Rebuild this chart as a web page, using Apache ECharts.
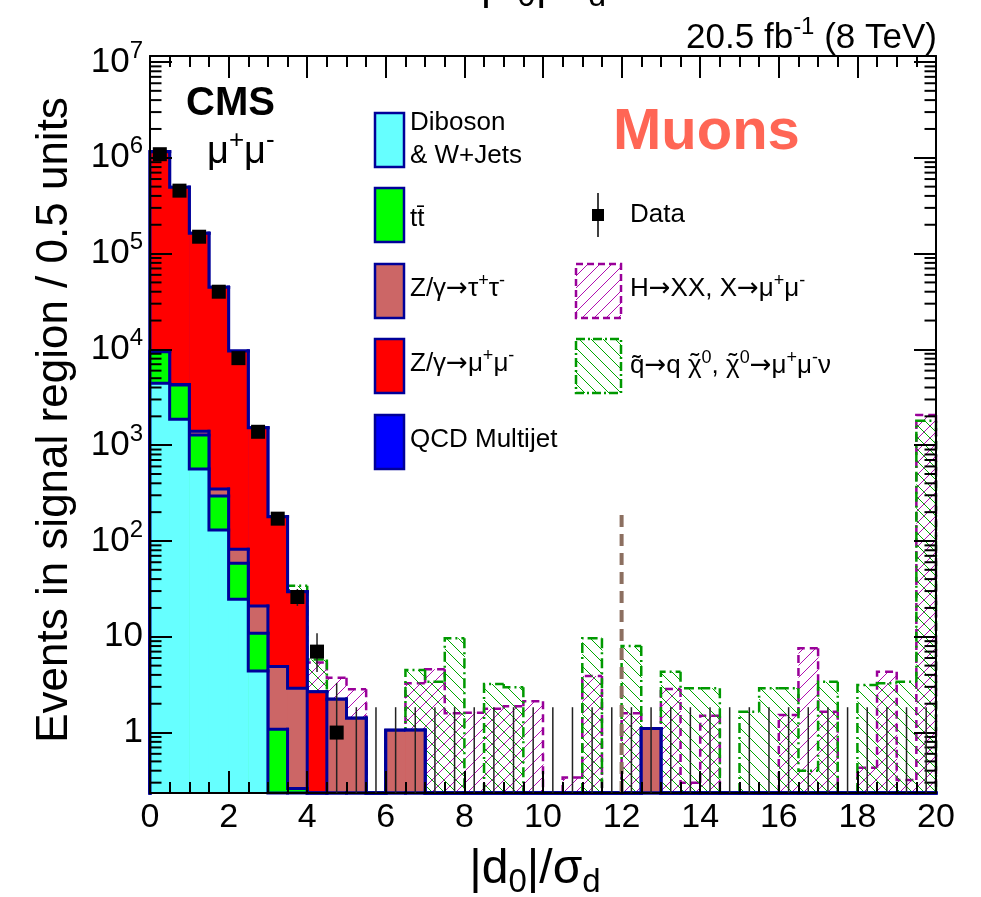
<!DOCTYPE html>
<html>
<head>
  <meta charset="utf-8" />
  <title>|d0|/sigma_d - Muons</title>
  <script src="https://cdn.jsdelivr.net/npm/echarts@6/dist/echarts.min.js"></script>
  <style>
    html, body {
      margin: 0;
      padding: 0;
      background: #ffffff;
    }

    #main {
      width: 981px;
      height: 897px;
    }
  </style>
</head>
<body>
  <div id="main"></div>

  <script type="text/javascript">
    // axis range (log y axis, bins of 0.5 in |d0|/sigma_d)
    const YMIN = 0.234;
    const YMAX = 1.155e7;
    const HALF_BIN = 0.25;

    const binCenters = [0.25, 0.75, 1.25, 1.75, 2.25, 2.75, 3.25, 3.75, 4.25, 4.75,
      5.25, 5.75, 6.25, 6.75, 7.25, 7.75, 8.25, 8.75, 9.25, 9.75,
      10.25, 10.75, 11.25, 11.75, 12.25, 12.75, 13.25, 13.75, 14.25, 14.75,
      15.25, 15.75, 16.25, 16.75, 17.25, 17.75, 18.25, 18.75, 19.25, 19.75];

    // backgrounds (stacked, bottom to top)
    const dibosonWJets = [4430, 1860, 565, 130, 24.6, 4.4, 0, 0, 0, 0,
      0, 0, 0, 0, 0, 0, 0, 0, 0, 0, 0, 0, 0, 0, 0, 0, 0, 0, 0, 0,
      0, 0, 0, 0, 0, 0, 0, 0, 0, 0];
    const ttbar = [5030, 2390, 712, 165, 34, 6.5, 1.08, 0.26, 0, 0,
      0, 0, 0, 0, 0, 0, 0, 0, 0, 0, 0, 0, 0, 0, 0, 0, 0, 0, 0, 0,
      0, 0, 0, 0, 0, 0, 0, 0, 0, 0];
    const zTauTau = [100, 60, 120, 54, 23.4, 10.1, 3.8, 2.64, 0, 2.23,
      1.41, 0, 1.06, 1.06, 0, 0, 0, 0, 0, 0, 0, 0, 0, 0, 0, 1.1, 0, 0, 0, 0,
      0, 0, 0, 0, 0, 0, 0, 0, 0, 0];
    const zMuMu = [1150000, 487600, 161600, 44150, 9540, 1503, 174, 26.7, 2.67, 0,
      0, 0, 0, 0, 0, 0, 0, 0, 0, 0, 0, 0, 0, 0, 0, 0, 0, 0, 0, 0,
      0, 0, 0, 0, 0, 0, 0, 0, 0, 0];
    const qcdMultijet = [300, 80, 10, 0, 0, 0, 0, 0, 0, 0,
      0, 0, 0, 0, 0, 0, 0, 0, 0, 0, 0, 0, 0, 0, 0, 0, 0, 0, 0, 0,
      0, 0, 0, 0, 0, 0, 0, 0, 0, 0];

    // signals (not stacked)
    const higgsToXX = [20, 18, 16, 14, 12, 10, 8, 6, 5.4, 3.74,
      2.83, 0, 0.9, 3.27, 4.58, 1.59, 1.61, 1.77, 1.88, 2.12,
      0, 0.34, 3.9, 0, 1.59, 0.9, 2.85, 0.3, 1.5, 0,
      0, 0, 1.53, 7.6, 1.65, 0, 0.43, 4.32, 0.32, 2070];
    const squarkToNeutralino = [60, 55, 50, 46, 42, 39, 36, 34, 5.8, 1.8,
      1.2, 0, 0.9, 4.5, 3.4, 9.64, 0, 3.21, 2.97, 0,
      0, 0, 9.64, 0, 8.0, 0.9, 4.32, 2.9, 2.9, 0,
      1.65, 2.9, 2.9, 0.4, 3.4, 0, 3.14, 3.27, 3.4, 1800];

    // data with error bar ends
    const dataCounts = [1090000, 454000, 150000, 40000, 8100, 1380, 171, 26, 7, 1,
      0, 0, 0, 0, 0, 0, 0, 0, 0, 0, 0, 0, 0, 0, 0, 0, 0, 0, 0, 0,
      0, 0, 0, 0, 0, 0, 0, 0, 0, 0];
    const dataLow = [1088956, 453326, 149613, 39800, 8010, 1343, 158, 21, 4.3, 0.17,
      0, 0, 0, 0, 0, 0, 0, 0, 0, 0, 0, 0, 0, 0, 0, 0, 0, 0, 0, 0,
      0, 0, 0, 0, 0, 0, 0, 0, 0, 0];
    const dataHigh = [1091044, 454674, 150387, 40200, 8190, 1417, 184, 31.5, 10.9, 3.3,
      1.84, 1.84, 1.84, 1.84, 1.84, 1.84, 1.84, 1.84, 1.84, 1.84,
      1.84, 1.84, 1.84, 1.84, 1.84, 1.84, 1.84, 1.84, 1.84, 1.84,
      1.84, 1.84, 1.84, 1.84, 1.84, 1.84, 1.84, 1.84, 1.84, 1.84];

    const cutValue = 12;
    const cutLineTop = 210;

    const xTickValues = [0, 2, 4, 6, 8, 10, 12, 14, 16, 18, 20];
    const xTickLabels = ['0', '2', '4', '6', '8', '10', '12', '14', '16', '18', '20'];
    const yTickValues = [1, 10, 100, 1000, 1e4, 1e5, 1e6, 1e7];
    const yTickLabels = ['1', '10', '10^2', '10^3', '10^4', '10^5', '10^6', '10^7'];

    const FONT = 'Liberation Sans, Arial, Helvetica, sans-serif';
    const ARROW_FONT = 'DejaVu Sans, Liberation Sans, sans-serif';
    const NAVY = '#000099';
    const PURPLE = '#990099';
    const GREEN = '#009900';

    function hatch(color, forward) {
      const s = 12;
      const c = document.createElement('canvas');
      c.width = s;
      c.height = s;
      const g = c.getContext('2d');
      g.strokeStyle = color;
      g.lineWidth = 1;
      g.beginPath();
      if (forward) {
        g.moveTo(0, s); g.lineTo(s, 0);
        g.moveTo(-2, 2); g.lineTo(2, -2);
        g.moveTo(s - 2, s + 2); g.lineTo(s + 2, s - 2);
      } else {
        g.moveTo(0, 0); g.lineTo(s, s);
        g.moveTo(s - 2, -2); g.lineTo(s + 2, 2);
        g.moveTo(-2, s - 2); g.lineTo(2, s + 2);
      }
      g.stroke();
      return { image: c, repeat: 'repeat' };
    }

    const purpleHatch = hatch('#b010b0', true);
    const greenHatch = hatch('#00a800', false);

    function cumulate(list) {
      return binCenters.map((_, i) => list.reduce((s, arr) => s + arr[i], 0));
    }

    function makeHist(name, values, opt) {
      return {
        name: name,
        type: 'custom',
        coordinateSystem: 'cartesian2d',
        silent: true,
        z: opt.z,
        encode: { x: 0, y: 1 },
        data: values.map((v, i) => [binCenters[i], Math.max(v, YMIN),
          i > 0 ? Math.max(values[i - 1], YMIN) : YMIN, i]),
        renderItem: function (params, api) {
          const xc = api.value(0);
          const v = api.value(1);
          const prev = api.value(2);
          const i = api.value(3);
          const pL = api.coord([xc - HALF_BIN, v]);
          const pR = api.coord([xc + HALF_BIN, v]);
          const pP = api.coord([xc - HALF_BIN, prev]);
          const yBase = api.coord([xc, YMIN])[1];
          const lineStyle = {
            stroke: opt.stroke, lineWidth: opt.width, lineDash: opt.dash || null,
            lineCap: opt.cap || 'square', fill: null
          };
          const children = [];
          if (v > YMIN) {
            children.push({
              type: 'rect',
              shape: { x: pL[0], y: pL[1], width: pR[0] - pL[0] + 0.5, height: yBase - pL[1] },
              style: { fill: opt.fill }
            });
          }
          children.push({ type: 'polyline', shape: { points: [pP, pL, pR] }, style: lineStyle });
          if (i === binCenters.length - 1) {
            children.push({ type: 'line', shape: { x1: pR[0], y1: pR[1], x2: pR[0], y2: yBase }, style: lineStyle });
          }
          return { type: 'group', children: children };
        }
      };
    }

    const cumDiboson = cumulate([dibosonWJets]);
    const cumTT = cumulate([dibosonWJets, ttbar]);
    const cumZTT = cumulate([dibosonWJets, ttbar, zTauTau]);
    const cumZMM = cumulate([dibosonWJets, ttbar, zTauTau, zMuMu]);
    const cumQCD = cumulate([dibosonWJets, ttbar, zTauTau, zMuMu, qcdMultijet]);

    // minor ticks of the log axis (2..9 x 10^n)
    const minorTickValues = [];
    for (let e = -1; e <= 6; e++) {
      for (let m = 2; m <= 9; m++) {
        const v = m * Math.pow(10, e);
        if (v > YMIN && v < YMAX) minorTickValues.push(v);
      }
    }

    function yLabel(v) {
      const idx = yTickValues.findIndex(t => Math.abs(v / t - 1) < 1e-6);
      if (idx < 0) return '';
      const parts = yTickLabels[idx].split('^');
      return parts.length > 1 ? '{b|' + parts[0] + '}{s|' + parts[1] + '}' : '{b|' + parts[0] + '}';
    }

    function xLabel(v) {
      const idx = xTickValues.findIndex(t => Math.abs(v - t) < 1e-6);
      return idx < 0 ? '' : xTickLabels[idx];
    }

    const measureCtx = document.createElement('canvas').getContext('2d');
    function textWidth(text, size, family) {
      measureCtx.font = size + 'px ' + family;
      return measureCtx.measureText(text).width;
    }

    const axisLine = { show: true, onZero: false, lineStyle: { color: '#000', width: 2 } };
    const tickStyle = { color: '#000', width: 2 };

    const chart = echarts.init(document.getElementById('main'), null, { renderer: 'canvas' });

    function txt(x, y, text, size, extra) {
      return {
        type: 'text',
        z: 100,
        style: Object.assign({
          x: x, y: y, text: text,
          fontSize: size, fontFamily: FONT, fill: '#000',
          align: 'left', textAlign: 'left',
          verticalAlign: 'middle', textVerticalAlign: 'middle'
        }, extra || {})
      };
    }

    const supRich = function (size, subSize) {
      const small = subSize || Math.round(size * 0.68);
      return {
        n: { fontSize: size, fontFamily: FONT, color: '#000' },
        a: { fontSize: size, fontFamily: ARROW_FONT, color: '#000' },
        s: { fontSize: small, fontFamily: FONT, color: '#000', padding: [0, 0, Math.round(size * 0.62), 0] },
        d: { fontSize: small, fontFamily: FONT, color: '#000', padding: [Math.round(size * 0.55), 0, 0, 0] }
      };
    };

    const legendBox = function (x, y, w, h, fill, stroke, dash) {
      return {
        type: 'rect', z: 100,
        shape: { x: x, y: y, width: w, height: h },
        style: { fill: fill, stroke: stroke, lineWidth: 2.5, lineDash: dash || null }
      };
    };

    // squark legend text: tildes over chi placed by measuring the preceding text
    const LEG = 26;
    const LEG_SUP = Math.round(LEG * 0.68);
    const sqX = 630;
    const sqY = 366;
    const chiW = textWidth('\u03c7', LEG, FONT);
    const chi1 = sqX + textWidth('q\u0303', LEG, FONT) + textWidth('\u2192', LEG, ARROW_FONT) +
      textWidth('q ', LEG, FONT) + chiW / 2;
    const chi2 = chi1 + chiW / 2 + textWidth('0', LEG_SUP, FONT) + textWidth(', ', LEG, FONT) + chiW / 2;

    const option = {
      animation: false,
      backgroundColor: '#ffffff',
      grid: { left: 150, top: 56, width: 786, height: 737, containLabel: false, outerBoundsMode: 'none' },
      xAxis: [{
        type: 'value', min: 0, max: 20, interval: 2, position: 'bottom', z: 10,
        axisLine: axisLine,
        axisTick: { show: true, inside: true, length: 22, lineStyle: tickStyle },
        minorTick: { show: true, splitNumber: 4, length: 11, lineStyle: tickStyle },
        splitLine: { show: false },
        axisLabel: { show: true, margin: 8, fontSize: 34, fontFamily: FONT, color: '#000', formatter: xLabel, showMinLabel: true, showMaxLabel: true }
      }, {
        type: 'value', min: 0, max: 20, interval: 2, position: 'top', z: 10,
        axisLine: axisLine,
        axisTick: { show: true, inside: true, length: 22, lineStyle: tickStyle },
        minorTick: { show: true, splitNumber: 4, length: 11, lineStyle: tickStyle },
        splitLine: { show: false },
        axisLabel: { show: false }
      }],
      yAxis: [{
        type: 'log', logBase: 10, min: YMIN, max: YMAX, position: 'left', z: 10,
        axisLine: axisLine,
        axisTick: { show: true, inside: true, length: 22, lineStyle: tickStyle },
        minorTick: { show: false },
        splitLine: { show: false },
        axisLabel: {
          show: true, margin: 7, formatter: yLabel, showMinLabel: true, showMaxLabel: true,
          rich: {
            b: { fontSize: 35, fontFamily: FONT, color: '#000' },
            s: { fontSize: 24, fontFamily: FONT, color: '#000', padding: [0, 0, 22, 0] }
          }
        }
      }, {
        type: 'log', logBase: 10, min: YMIN, max: YMAX, position: 'right', z: 10,
        axisLine: axisLine,
        axisTick: { show: true, inside: true, length: 22, lineStyle: tickStyle },
        minorTick: { show: false },
        splitLine: { show: false },
        axisLabel: { show: false }
      }],
      series: [
        makeHist('H\u2192XX, X\u2192\u03bc\u207a\u03bc\u207b', higgsToXX,
          { z: 2, fill: purpleHatch, stroke: PURPLE, width: 2.5, dash: [8, 5], cap: 'butt' }),
        makeHist('squark', squarkToNeutralino,
          { z: 2, fill: greenHatch, stroke: GREEN, width: 2.5, dash: [10, 4, 2, 4], cap: 'butt' }),
        makeHist('QCD Multijet', cumQCD, { z: 3, fill: '#0000ff', stroke: NAVY, width: 3 }),
        makeHist('Z/\u03b3\u2192\u03bc\u03bc', cumZMM, { z: 3, fill: '#ff0000', stroke: NAVY, width: 3 }),
        makeHist('Z/\u03b3\u2192\u03c4\u03c4', cumZTT, { z: 3, fill: '#cc6666', stroke: NAVY, width: 3 }),
        makeHist('ttbar', cumTT, { z: 3, fill: '#00ff00', stroke: NAVY, width: 3 }),
        makeHist('Diboson & W+Jets', cumDiboson, { z: 3, fill: '#66ffff', stroke: NAVY, width: 3 }),
        {
          name: 'cut',
          type: 'line',
          z: 4,
          silent: true,
          symbol: 'none',
          data: [[cutValue, YMIN], [cutValue, cutLineTop]],
          lineStyle: { color: '#8c6f60', width: 4, type: [12, 7], opacity: 1 }
        },
        {
          name: 'minor ticks',
          type: 'custom',
          z: 11,
          silent: true,
          encode: { x: 0, y: 1 },
          data: minorTickValues.map(v => [0, v]),
          renderItem: function (params, api) {
            const y = api.coord([0, api.value(1)])[1];
            const x0 = params.coordSys.x;
            const x1 = x0 + params.coordSys.width;
            return {
              type: 'group',
              children: [
                { type: 'line', shape: { x1: x0, y1: y, x2: x0 + 11.5, y2: y }, style: { stroke: '#000', lineWidth: 2 } },
                { type: 'line', shape: { x1: x1, y1: y, x2: x1 - 11.5, y2: y }, style: { stroke: '#000', lineWidth: 2 } }
              ]
            };
          }
        },
        {
          name: 'Data errors',
          type: 'custom',
          z: 20,
          silent: true,
          encode: { x: 0, y: 2 },
          data: binCenters.map((x, i) => [x, Math.max(dataLow[i], YMIN), dataHigh[i]]),
          renderItem: function (params, api) {
            const a = api.coord([api.value(0), api.value(1)]);
            const b = api.coord([api.value(0), api.value(2)]);
            return { type: 'line', shape: { x1: a[0], y1: a[1], x2: b[0], y2: b[1] }, style: { stroke: '#222', lineWidth: 1.5 } };
          }
        },
        {
          name: 'Data',
          type: 'scatter',
          z: 21,
          silent: true,
          symbol: 'rect',
          symbolSize: 14,
          itemStyle: { color: '#000', opacity: 1 },
          data: binCenters.map((x, i) => [x, dataCounts[i]]).filter(d => d[1] > 0)
        }
      ],
      graphic: {
        elements: [
          // cut-off title at the very top
          txt(543, -15, '{n||d}{d|0}{n||/\u03c3}{d|d}', 46, { align: 'center', textAlign: 'center', rich: supRich(46, 32) }),
          // lumi label
          txt(937, 38, '{n|20.5 fb}{s|-1}{n| (8 TeV)}', 35, { align: 'right', textAlign: 'right', rich: supRich(35, 24) }),
          // axis titles
          {
            type: 'text', z: 100, x: 55, y: 420, rotation: Math.PI / 2,
            style: {
              x: 0, y: 0, text: 'Events in signal region / 0.5 units', fontSize: 44, fontFamily: FONT, fill: '#000',
              align: 'center', textAlign: 'center', verticalAlign: 'middle', textVerticalAlign: 'middle'
            }
          },
          txt(535, 870, '{n||d}{d|0}{n||/\u03c3}{d|d}', 48, { align: 'center', textAlign: 'center', rich: supRich(48, 33) }),
          // CMS and channel labels
          txt(186, 104, 'CMS', 40, { fontWeight: 'bold' }),
          txt(207, 153, '{n|\u03bc}{s|+}{n|\u03bc}{s|-}', 38, { rich: supRich(38) }),
          txt(613, 133, 'Muons', 58, { fontWeight: 'bold', fill: '#ff6655' }),
          // legend, left column
          legendBox(375, 113, 29, 54, '#66ffff', NAVY),
          txt(410, 123, 'Diboson', LEG),
          txt(410, 156, '& W+Jets', LEG),
          legendBox(375, 188, 29, 54, '#00ff00', NAVY),
          txt(410, 219, 'tt\u0304', LEG),
          legendBox(375, 264, 29, 54, '#cc6666', NAVY),
          txt(410, 289, '{n|Z/\u03b3}{a|\u2192}{n|\u03c4}{s|+}{n|\u03c4}{s|-}', LEG, { rich: supRich(LEG) }),
          legendBox(375, 339, 29, 54, '#ff0000', NAVY),
          txt(410, 364, '{n|Z/\u03b3}{a|\u2192}{n|\u03bc}{s|+}{n|\u03bc}{s|-}', LEG, { rich: supRich(LEG) }),
          legendBox(375, 415, 29, 54, '#0000ff', NAVY),
          txt(410, 440, 'QCD Multijet', LEG),
          // legend, right column
          { type: 'line', z: 100, shape: { x1: 598, y1: 193, x2: 598, y2: 237 }, style: { stroke: '#000', lineWidth: 1.5 } },
          { type: 'rect', z: 100, shape: { x: 592, y: 209, width: 12, height: 12 }, style: { fill: '#000' } },
          txt(630, 215, 'Data', LEG),
          legendBox(576, 264, 45, 54, purpleHatch, PURPLE, [7, 4]),
          txt(630, 289, '{n|H}{a|\u2192}{n|XX, X}{a|\u2192}{n|\u03bc}{s|+}{n|\u03bc}{s|-}', LEG, { rich: supRich(LEG) }),
          legendBox(576, 339, 45, 54, greenHatch, GREEN, [9, 3, 2, 3]),
          txt(sqX, sqY, '{n|q\u0303}{a|\u2192}{n|q \u03c7}{s|0}{n|, \u03c7}{s|0}{a|\u2192}{n|\u03bc}{s|+}{n|\u03bc}{s|-}{n|\u03bd}', LEG, { rich: supRich(LEG) }),
          txt(chi1, sqY - 2, '\u02dc', LEG, { align: 'center', textAlign: 'center' }),
          txt(chi2, sqY - 2, '\u02dc', LEG, { align: 'center', textAlign: 'center' })
        ]
      }
    };

    chart.setOption(option);
  </script>
</body>
</html>
